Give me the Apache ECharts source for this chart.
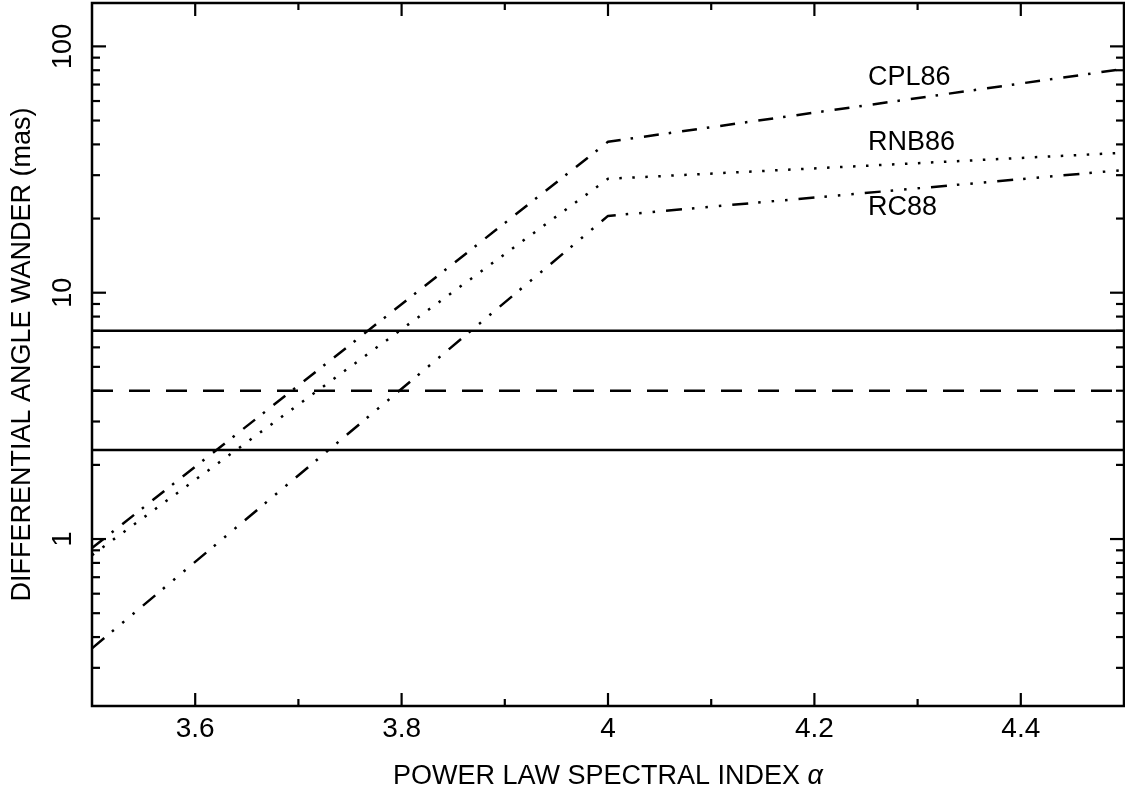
<!DOCTYPE html>
<html><head><meta charset="utf-8">
<script src="https://cdn.jsdelivr.net/npm/echarts@6/dist/echarts.min.js"></script>
<style>html,body{margin:0;padding:0;background:#fff}#c{width:1125px;height:802px}</style>
</head><body><div id="c"></div>
<script>
// ---- data ----
const alphaPoints = [3.5, 4.0, 4.5];
const cpl86 = [0.92, 41, 81];
const rnb86 = [0.86, 29, 37];
const rc88 = [0.36, 20.5, 31.5];
const refLevels = [7.0, 4.0, 2.3];          // upper solid, dashed, lower solid
const xRange = [3.5, 4.5];
const yRange = [0.21, 150];
const xMajorTicks = [3.6, 3.8, 4.0, 4.2, 4.4];
const xMinorTicks = [3.7, 3.9, 4.1, 4.3];
const yMajorTicks = [1, 10, 100];
const yMinorTicks = [0.3, 0.4, 0.5, 0.6, 0.7, 0.8, 0.9, 2, 3, 4, 5, 6, 7, 8, 9, 20, 30, 40, 50, 60, 70, 80, 90];
const seriesNames = ['CPL86', 'RNB86', 'RC88'];
const xTitle = 'POWER LAW SPECTRAL INDEX {a|α}';
const yTitle = 'DIFFERENTIAL ANGLE WANDER (mas)';

const FONT = "'Liberation Sans', Arial, Helvetica, sans-serif";
const chart = echarts.init(document.getElementById('c'), null, {renderer: 'canvas'});

function pairs(xs, ys) { return xs.map((x, i) => [x, ys[i]]); }

function tickSeries(values, axis, len) {
  return {
    type: 'custom', silent: true, z: 5, clip: false,
    data: values.map(v => axis === 'x' ? [v, 1] : [3.5, v]),
    renderItem: function (params, api) {
      const cs = params.coordSys;
      const p = api.coord([api.value(0), api.value(1)]);
      const style = {stroke: '#000', lineWidth: 2.2};
      if (axis === 'x') {
        const yb = cs.y + cs.height, yt = cs.y;
        return {type: 'group', children: [
          {type: 'line', shape: {x1: p[0], y1: yb, x2: p[0], y2: yb - len}, style},
          {type: 'line', shape: {x1: p[0], y1: yt, x2: p[0], y2: yt + len}, style}
        ]};
      } else {
        const xl = cs.x, xr = cs.x + cs.width;
        return {type: 'group', children: [
          {type: 'line', shape: {x1: xl, y1: p[1], x2: xl + len, y2: p[1]}, style},
          {type: 'line', shape: {x1: xr, y1: p[1], x2: xr - len, y2: p[1]}, style}
        ]};
      }
    }
  };
}

const lineStyles = [
  {type: [15, 10, 2.5, 11]},                              // dash-dot
  {type: [2.5, 10.5]},                                    // dotted
  {type: [16, 10, 2.5, 11, 2.5, 11, 2.5, 11]}             // dash-dot-dot-dot
];
const curves = [cpl86, rnb86, rc88].map((vals, i) => ({
  type: 'line', name: seriesNames[i], data: pairs(alphaPoints, vals),
  symbol: 'none', silent: true, z: 3,
  lineStyle: Object.assign({color: '#000', width: 2.5}, lineStyles[i])
}));
const refStyles = ['solid', [21, 16], 'solid'];
const refs = refLevels.map((lv, i) => ({
  type: 'line', data: [[xRange[0], lv], [xRange[1], lv]],
  symbol: 'none', silent: true, z: 3,
  lineStyle: {color: '#000', width: 2.5, type: refStyles[i]}
}));

const option = {
  animation: false,
  backgroundColor: '#fff',
  grid: {left: 92, right: 1, top: 3, bottom: 96, show: true, borderColor: '#000', borderWidth: 2.5,
         backgroundColor: 'transparent', containLabel: false, outerBoundsMode: 'none'},
  xAxis: {
    type: 'value', min: xRange[0], max: xRange[1], interval: 0.1,
    axisLine: {show: false}, axisTick: {show: false}, splitLine: {show: false},
    axisLabel: {
      margin: 9, color: '#000', fontSize: 28, fontFamily: FONT,
      showMinLabel: false, showMaxLabel: false,
      formatter: v => { const r = Math.round(v * 10); return r % 2 === 0 ? String(r / 10) : ''; }
    },
    name: xTitle, nameLocation: 'middle', nameGap: 57,
    nameTextStyle: {color: '#000', fontSize: 27, fontFamily: FONT,
      rich: {a: {fontStyle: 'italic', fontSize: 27, fontFamily: FONT, color: '#000'}}}
  },
  yAxis: {
    type: 'log', logBase: 10, min: yRange[0], max: yRange[1],
    axisLine: {show: false}, axisTick: {show: false}, splitLine: {show: false},
    minorTick: {show: false}, minorSplitLine: {show: false},
    axisLabel: {
      rotate: 90, margin: 15, color: '#000', fontSize: 27, fontFamily: FONT,
      showMinLabel: false, showMaxLabel: false,
      formatter: v => { const l = Math.log10(v); return Math.abs(l - Math.round(l)) < 1e-6 ? String(Math.round(v)) : ''; }
    },
    name: yTitle, nameLocation: 'middle', nameGap: 56,
    nameTextStyle: {color: '#000', fontSize: 27, fontFamily: FONT}
  },
  graphic: [
    {type: 'text', left: 868, top: 64, style: {text: seriesNames[0], font: '27px ' + FONT, fill: '#000'}},
    {type: 'text', left: 868, top: 129, style: {text: seriesNames[1], font: '27px ' + FONT, fill: '#000'}},
    {type: 'text', left: 868, top: 194, style: {text: seriesNames[2], font: '27px ' + FONT, fill: '#000'}}
  ],
  series: [
    ...curves, ...refs,
    tickSeries(xMajorTicks, 'x', 13),
    tickSeries(xMinorTicks, 'x', 7),
    tickSeries(yMajorTicks, 'y', 14),
    tickSeries(yMinorTicks, 'y', 8)
  ]
};
chart.setOption(option);
</script>
</body></html>
